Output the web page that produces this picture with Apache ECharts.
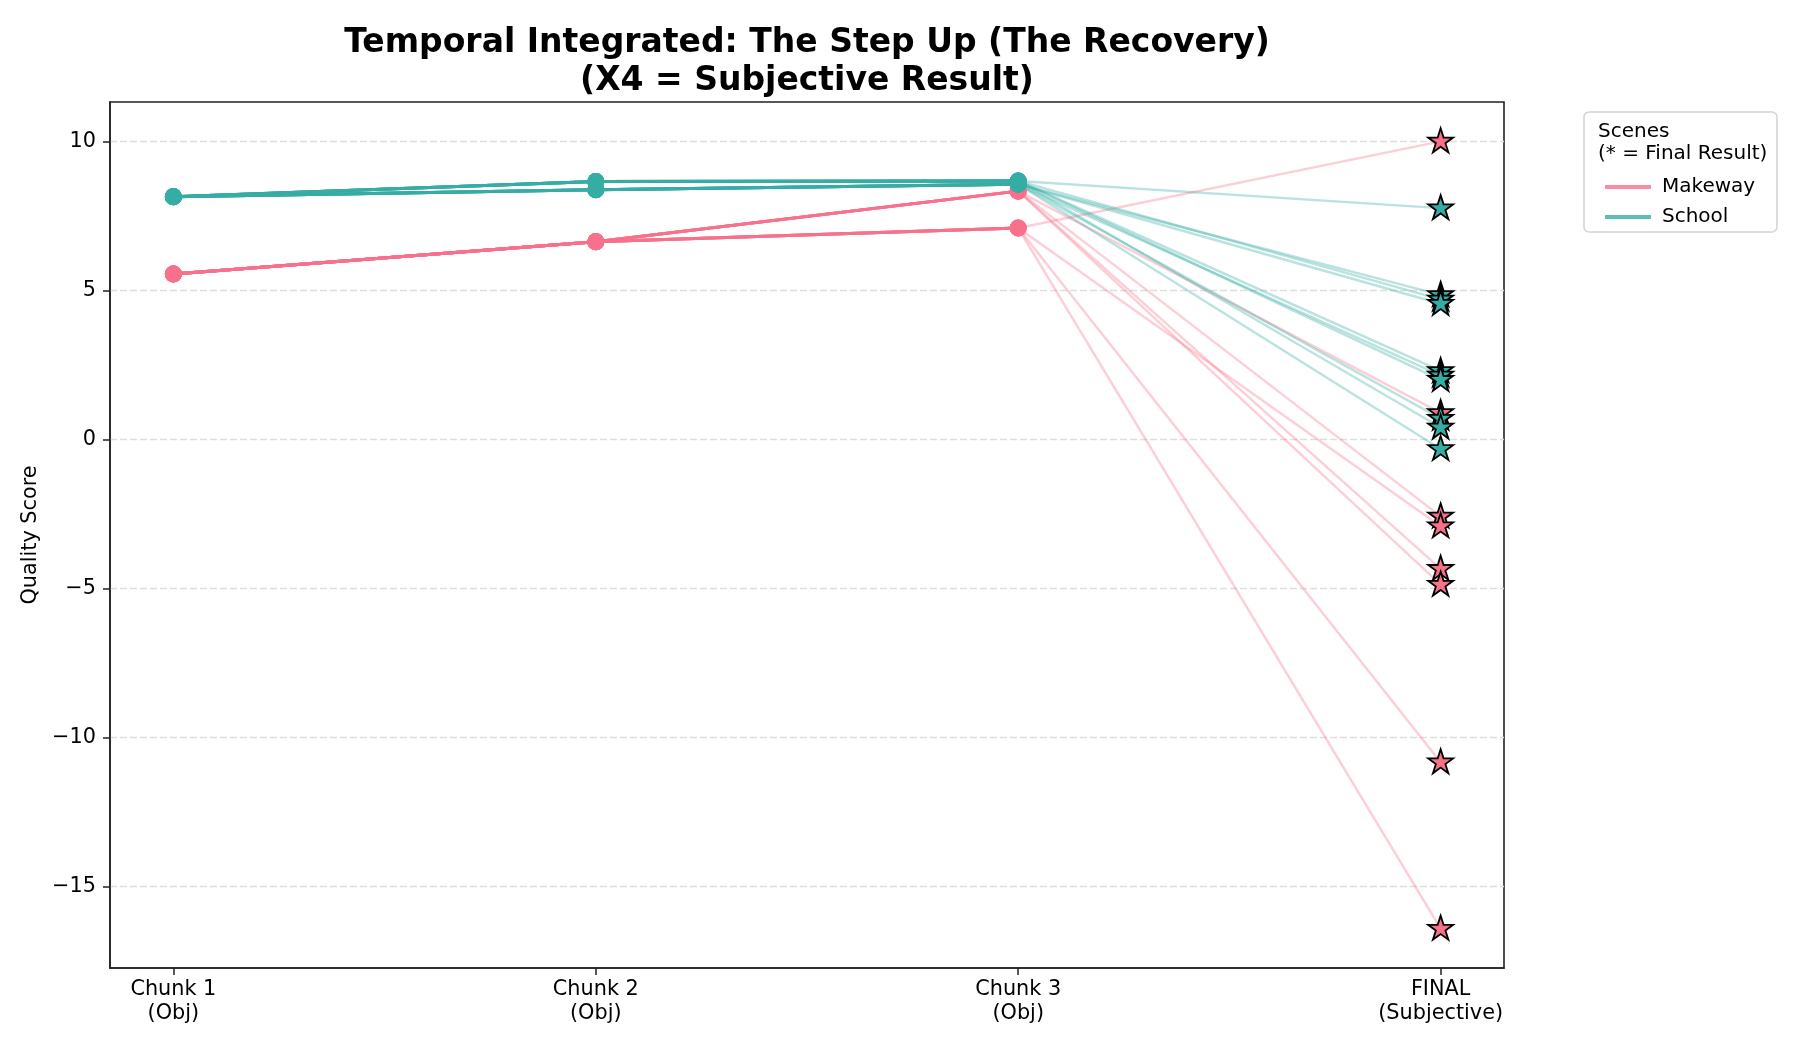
<!DOCTYPE html>
<html>
<head>
<meta charset="utf-8">
<script src="https://cdn.jsdelivr.net/npm/echarts@6/dist/echarts.min.js"></script>
<style>html,body{margin:0;padding:0;background:#fff}#chart{width:1800px;height:1050px}</style>
</head>
<body>
<div id="chart"></div>
<script>
// ---- data ----
const xLabels = ['Chunk 1\n(Obj)', 'Chunk 2\n(Obj)', 'Chunk 3\n(Obj)', 'FINAL\n(Subjective)'];
const xTickValues = [0, 1, 2, 3];
const yTickValues = [-15, -10, -5, 0, 5, 10];
const sceneNames = ['Makeway', 'School'];
const sceneColors = ['#f77189', '#36ada4'];

const makewayChunk1 = [5.55, 5.55, 5.55, 5.55, 5.55, 5.55, 5.55, 5.55];
const makewayChunk2 = [6.63, 6.63, 6.63, 6.63, 6.63, 6.63, 6.63, 6.63];
const makewayChunk3 = [8.33, 8.33, 8.33, 8.33, 7.09, 7.09, 7.09, 7.09];
const makewayFinal  = [0.89, -2.58, -4.34, -4.87, 10.0, -2.91, -10.83, -16.41];

const schoolChunk1 = [8.14, 8.14, 8.14, 8.14, 8.14, 8.14, 8.14, 8.14, 8.14, 8.14];
const schoolChunk2 = [8.65, 8.38, 8.65, 8.38, 8.65, 8.38, 8.65, 8.38, 8.65, 8.38];
const schoolChunk3 = [8.67, 8.56, 8.67, 8.56, 8.67, 8.56, 8.67, 8.56, 8.67, 8.56];
const schoolFinal  = [7.76, 4.85, 4.70, 4.55, 2.30, 2.15, 2.00, 0.70, 0.40, -0.32];

const STAR = 'path://M1000 0 L1224.5 691 L1951.1 691 L1363.3 1118 L1587.8 1809 L1000 1382 L412.2 1809 L636.7 1118 L48.9 691 L775.5 691 Z';
const FONT = 'DejaVu Sans';

const scenes = [
  { name: sceneNames[0], color: sceneColors[0], c1: makewayChunk1, c2: makewayChunk2, c3: makewayChunk3, fin: makewayFinal },
  { name: sceneNames[1], color: sceneColors[1], c1: schoolChunk1, c2: schoolChunk2, c3: schoolChunk3, fin: schoolFinal }
];

const series = [];
scenes.forEach(function (s) {
  for (let i = 0; i < s.fin.length; i++) {
    series.push({
      name: s.name, type: 'line', silent: true, z: 2,
      data: [[0, s.c1[i]], [1, s.c2[i]], [2, s.c3[i]]],
      symbol: 'circle', symbolSize: 17, showSymbol: true,
      lineStyle: { color: s.color, width: 3, opacity: 0.8 },
      itemStyle: { color: s.color, opacity: 0.8, borderWidth: 0 },
      emphasis: { disabled: true }
    });
    series.push({
      name: s.name + ' final', type: 'line', silent: true, z: 2,
      data: [[2, s.c3[i]], [3, s.fin[i]]],
      symbol: 'none',
      lineStyle: { color: s.color, width: 2.5, opacity: 0.34 },
      emphasis: { disabled: true }
    });
  }
});
scenes.forEach(function (s) {
  series.push({
    name: s.name + ' result', type: 'scatter', silent: true, z: 5,
    data: s.fin.map(function (v) { return [3, v]; }),
    symbol: STAR, symbolSize: [25, 24], symbolOffset: [0, -1],
    itemStyle: { color: s.color, borderColor: '#000', borderWidth: 1.8, opacity: 1 },
    emphasis: { disabled: true }
  });
});

const chart = echarts.init(document.getElementById('chart'), null, { renderer: 'canvas' });
chart.setOption({
  animation: false,
  backgroundColor: '#fff',
  textStyle: { fontFamily: FONT },
  title: {
    text: 'Temporal Integrated: The Step Up (The Recovery)\n(X4 = Subjective Result)',
    left: 807, top: 24, textAlign: 'center', padding: 0,
    textStyle: { fontFamily: FONT, fontSize: 33, fontWeight: 'bold', color: '#000', lineHeight: 38 }
  },
  grid: { left: 110, right: 296, top: 102, bottom: 82, show: true, borderColor: '#222', borderWidth: 1.6, backgroundColor: 'transparent', containLabel: false },
  legend: {
    data: [
      { name: sceneNames[0], icon: 'rect', itemStyle: { color: sceneColors[0] } },
      { name: sceneNames[1], icon: 'rect', itemStyle: { color: sceneColors[1] } }
    ],
    orient: 'vertical', left: 1600, top: 172, itemWidth: 46, itemHeight: 4, itemGap: 10,
    selectedMode: false,
    textStyle: { fontFamily: FONT, fontSize: 20, color: '#000', padding: [0, 0, 0, 6] }
  },
  graphic: [
    { type: 'rect', z: 0, shape: { x: 1584, y: 112, width: 193, height: 120, r: 5 }, style: { fill: '#fff', stroke: '#d4d4d4', lineWidth: 1.6 } },
    { type: 'text', z: 1, x: 1598, y: 132, style: { text: 'Scenes', fontFamily: FONT, fontSize: 20, fill: '#000', verticalAlign: 'middle', align: 'left' } },
    { type: 'text', z: 1, x: 1598, y: 154, style: { text: '(* = Final Result)', fontFamily: FONT, fontSize: 20, fill: '#000', verticalAlign: 'middle', align: 'left' } }
  ],
  xAxis: {
    type: 'value', min: -0.15, max: 3.15,
    axisLine: { show: true, onZero: false, lineStyle: { color: '#222', width: 1.6 } },
    axisTick: { show: true, customValues: xTickValues, length: 7, lineStyle: { color: '#222', width: 1.5 } },
    axisLabel: {
      customValues: xTickValues, margin: 10, fontFamily: FONT, fontSize: 20.8, lineHeight: 24, color: '#000',
      formatter: function (v) { return xLabels[Math.round(v)]; }
    },
    splitLine: { show: false }
  },
  yAxis: {
    type: 'value', min: -17.73, max: 11.32,
    name: 'Quality Score', nameLocation: 'middle', nameGap: 59,
    nameTextStyle: { fontFamily: FONT, fontSize: 20.8, color: '#000' },
    axisLine: { show: true, onZero: false, lineStyle: { color: '#222', width: 1.6 } },
    axisTick: { show: true, customValues: yTickValues, length: 7, lineStyle: { color: '#222', width: 1.5 } },
    axisLabel: {
      customValues: yTickValues, margin: 14, fontFamily: FONT, fontSize: 20.8, color: '#000',
      formatter: function (v) { return v < 0 ? '\u2212' + Math.abs(v) : String(v); }
    },
    splitLine: { show: true, lineStyle: { color: '#dedede', width: 1.4, type: [7, 3] } }
  },
  series: series
});
</script>
</body>
</html>
